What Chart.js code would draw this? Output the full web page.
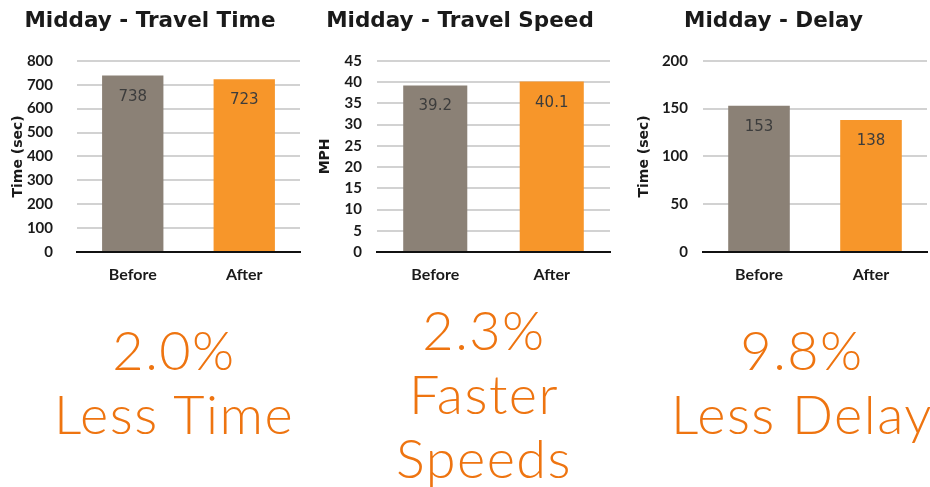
<!DOCTYPE html>
<html>
<head>
<meta charset="utf-8">
<script src="https://cdn.jsdelivr.net/npm/chart.js@4.4.1/dist/chart.umd.min.js"></script>
<style>
  html, body { margin: 0; padding: 0; background: #fff; }
  body { width: 930px; height: 487px; position: relative; overflow: hidden; }
  canvas { position: absolute; top: 0; }
  .note {
    position: absolute; text-align: center; color: #ee7410;
    font-family: Lato, "Open Sans", sans-serif; font-weight: 300;
    font-size: 54px; line-height: 64px; letter-spacing: 1.5px; white-space: nowrap;
  }
</style>
</head>
<body>
<canvas id="c1" width="310" height="300" style="left:0px"></canvas>
<canvas id="c2" width="310" height="300" style="left:310px"></canvas>
<canvas id="c3" width="310" height="300" style="left:620px"></canvas>

<div class="note" style="left:24px; width:300px; top:318px">2.0%<br>Less Time</div>
<div class="note" style="left:334px; width:300px; top:298px">2.3%<br>Faster<br>Speeds</div>
<div class="note" style="left:652px; width:300px; top:318px">9.8%<br>Less Delay</div>

<script>
const categories = ['Before', 'After'];
const travelTime = [738, 723];
const travelSpeed = [39.2, 40.1];
const delay = [153, 138];

const barColors = ['#8b8176', '#f7962a'];

// value printed inside the top of each bar
const valueLabels = {
  id: 'valueLabels',
  afterDatasetsDraw(chart) {
    const ctx = chart.ctx;
    const ds = chart.data.datasets[0];
    ctx.save();
    ctx.font = '15px "DejaVu Sans", sans-serif';
    ctx.fillStyle = '#3c3c3c';
    ctx.textAlign = 'center';
    ctx.textBaseline = 'middle';
    chart.getDatasetMeta(0).data.forEach((bar, i) => {
      ctx.fillText(String(ds.data[i]), bar.x, bar.y + 21);
    });
    ctx.restore();
  }
};

function makeChart(id, title, axisTitle, values, max, step, opts) {
  return new Chart(document.getElementById(id), {
    type: 'bar',
    data: {
      labels: categories,
      datasets: [{
        data: values,
        backgroundColor: barColors,
        barPercentage: 0.55,
        categoryPercentage: 1
      }]
    },
    options: {
      responsive: false,
      animation: false,
      layout: { padding: { left: 0, right: opts.right, top: 0, bottom: 0 } },
      plugins: {
        legend: { display: false },
        tooltip: { enabled: false },
        title: {
          display: true,
          text: title,
          color: '#1a1a1a',
          font: { family: '"DejaVu Sans", sans-serif', size: 21.5, weight: 'bold' },
          padding: { top: 9, bottom: 26 }
        }
      },
      scales: {
        x: {
          grid: { display: false },
          border: { display: true, color: '#111', width: 2 },
          ticks: {
            color: '#1a1a1a',
            padding: 5,
            font: { family: 'Lato, sans-serif', size: 16, weight: 'bold' }
          },
          afterFit(s) { s.height = 48; }
        },
        y: {
          min: 0,
          max: max,
          ticks: {
            stepSize: step,
            color: '#1a1a1a',
            padding: opts.tickPad,
            font: { family: 'Lato, sans-serif', size: 15, weight: 'bold' }
          },
          grid: {
            color: '#d2d2d2',
            lineWidth: 2,
            drawTicks: false
          },
          border: { display: false },
          title: {
            display: true,
            text: axisTitle,
            color: '#1a1a1a',
            font: { family: '"DejaVu Sans", sans-serif', size: 14, weight: 'bold' },
            padding: { top: opts.titlePad, bottom: 0 }
          },
          afterFit(s) { s.width = opts.yWidth; }
        }
      }
    },
    plugins: [valueLabels]
  });
}

makeChart('c1', 'Midday - Travel Time', 'Time (sec)', travelTime, 800, 100,
  { yWidth: 77, tickPad: 24, right: 10, titlePad: 10 });
makeChart('c2', 'Midday - Travel Speed', 'MPH', travelSpeed, 45, 5,
  { yWidth: 67, tickPad: 15, right: 10, titlePad: 7 });
makeChart('c3', 'Midday - Delay', 'Time (sec)', delay, 200, 50,
  { yWidth: 83, tickPad: 15, right: 3, titlePad: 16 });
</script>
</body>
</html>
